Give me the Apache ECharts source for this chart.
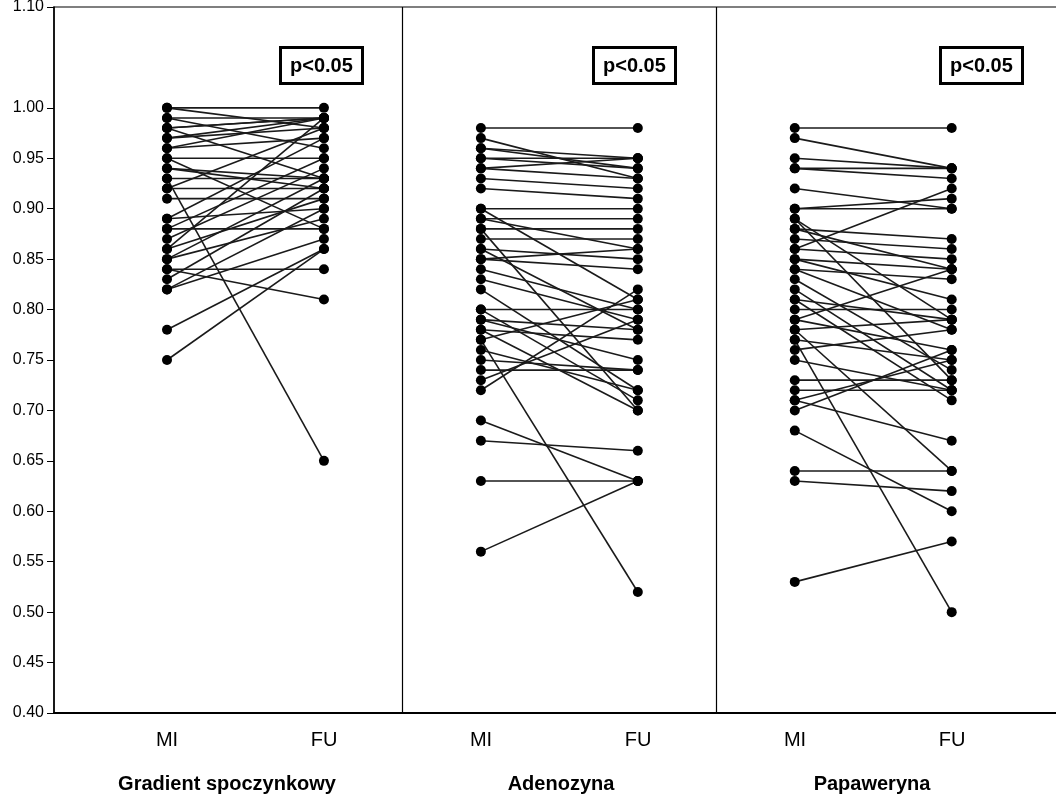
<!DOCTYPE html>
<html lang="pl">
<head>
<meta charset="UTF-8">
<title>MI vs FU</title>
<style>
  html, body { margin: 0; padding: 0; background: #fff; }
  #chart-box { width: 1056px; height: 796px; }
</style>
</head>
<body>
<div id="chart-box"></div>
<script src="https://cdn.jsdelivr.net/npm/echarts@6/dist/echarts.min.js"></script>
<script>
// paired values MI -> FU, one pair per patient
var gradientMI = [1.00,1.00,0.99,0.99,0.98,0.98,0.98,0.97,0.97,0.96,0.96,0.95,0.95,0.94,0.94,0.93,0.93,0.92,0.92,0.91,0.89,0.89,0.88,0.88,0.87,0.86,0.86,0.85,0.85,0.84,0.84,0.83,0.82,0.82,0.78,0.75];
var gradientFU = [1.00,0.98,0.99,0.96,0.99,0.99,0.93,0.99,0.98,0.97,0.99,0.95,0.88,0.93,0.92,0.65,0.93,0.98,0.92,0.91,0.90,0.97,0.95,0.88,0.94,0.91,0.99,0.93,0.89,0.84,0.81,0.92,0.90,0.87,0.86,0.86];

var adenozynaMI = [0.98,0.97,0.96,0.96,0.95,0.95,0.94,0.94,0.93,0.92,0.90,0.90,0.89,0.89,0.88,0.88,0.87,0.86,0.86,0.85,0.85,0.84,0.83,0.82,0.80,0.80,0.79,0.79,0.78,0.78,0.77,0.77,0.76,0.75,0.74,0.73,0.72,0.69,0.67,0.63,0.56];
var adenozynaFU = [0.98,0.93,0.95,0.94,0.94,0.95,0.93,0.95,0.92,0.91,0.90,0.81,0.89,0.86,0.70,0.88,0.87,0.85,0.78,0.86,0.84,0.80,0.79,0.72,0.80,0.71,0.78,0.75,0.77,0.70,0.52,0.81,0.72,0.74,0.74,0.79,0.82,0.63,0.66,0.63,0.63];

var papawerynaMI = [0.98,0.97,0.95,0.94,0.94,0.92,0.90,0.90,0.89,0.89,0.88,0.88,0.87,0.86,0.86,0.85,0.85,0.84,0.84,0.83,0.82,0.81,0.81,0.80,0.79,0.79,0.78,0.78,0.77,0.77,0.76,0.75,0.73,0.72,0.71,0.71,0.70,0.68,0.64,0.63,0.53];
var papawerynaFU = [0.98,0.94,0.94,0.94,0.93,0.90,0.90,0.91,0.79,0.73,0.87,0.84,0.86,0.92,0.85,0.84,0.81,0.83,0.78,0.74,0.72,0.79,0.71,0.80,0.84,0.76,0.64,0.79,0.50,0.75,0.78,0.72,0.73,0.72,0.67,0.75,0.76,0.60,0.64,0.62,0.57];

var timeLabels = ['MI','FU','MI','FU','MI','FU'];
var groupNames = ['Gradient spoczynkowy','Adenozyna','Papaweryna'];
var yTicks = [0.40,0.45,0.50,0.55,0.60,0.65,0.70,0.75,0.80,0.85,0.90,0.95,1.00,1.10];

var groups = [
    {mi: gradientMI, fu: gradientFU},
    {mi: adenozynaMI, fu: adenozynaFU},
    {mi: papawerynaMI, fu: papawerynaFU}
];

var font = 'Liberation Sans, Arial, sans-serif';

var series = [];
groups.forEach(function (g, gi) {
    var xMI = gi * 2 + 1, xFU = gi * 2 + 2;
    for (var i = 0; i < g.mi.length; i++) {
        series.push({
            type: 'line',
            xAxisIndex: 0,
            yAxisIndex: 0,
            data: [[xMI, g.mi[i]], [xFU, g.fu[i]]],
            symbol: 'circle',
            symbolSize: 10,
            itemStyle: {color: '#000'},
            lineStyle: {color: '#1a1a1a', width: 1.6},
            silent: true,
            animation: false
        });
    }
});
// panel dividers
series.push({
    type: 'line',
    xAxisIndex: 0,
    yAxisIndex: 0,
    data: [],
    silent: true,
    animation: false,
    markLine: {
        symbol: ['none', 'none'],
        label: {show: false},
        lineStyle: {color: '#000', width: 1.2, type: 'solid'},
        data: [{xAxis: 2.5}, {xAxis: 4.5}]
    }
});

var boxStyle = {
    borderColor: '#000',
    borderWidth: 3,
    padding: [9, 10, 8, 10],
    backgroundColor: '#fff',
    textStyle: {fontFamily: font, fontWeight: 'bold', fontSize: 20, color: '#000'}
};

var option = {
    backgroundColor: '#fff',
    title: [
        Object.assign({text: 'p<0.05', left: 280, top: 47}, boxStyle),
        Object.assign({text: 'p<0.05', left: 593, top: 47}, boxStyle),
        Object.assign({text: 'p<0.05', left: 940, top: 47}, boxStyle),
        {text: groupNames[0], left: 222, top: 769, textAlign: 'center',
         textStyle: {fontFamily: font, fontWeight: 'bold', fontSize: 20, color: '#000'}},
        {text: groupNames[1], left: 556, top: 769, textAlign: 'center',
         textStyle: {fontFamily: font, fontWeight: 'bold', fontSize: 20, color: '#000'}},
        {text: groupNames[2], left: 867, top: 769, textAlign: 'center',
         textStyle: {fontFamily: font, fontWeight: 'bold', fontSize: 20, color: '#000'}}
    ],
    grid: [
        {left: 54, width: 1006, top: 7, bottom: 83, show: true, borderColor: '#000', borderWidth: 1.2,
         outerBoundsMode: 'none', containLabel: false},
        {left: 88.5, width: 942, top: 7, bottom: 83, show: false, outerBoundsMode: 'none'}
    ],
    xAxis: [
        {
            type: 'value', gridIndex: 0, min: 0.28, max: 6.69,
            axisLine: {show: true, onZero: false, lineStyle: {color: '#000', width: 2}},
            axisTick: {show: false},
            axisLabel: {show: false},
            splitLine: {show: false}
        },
        {
            type: 'category', gridIndex: 1, data: timeLabels, boundaryGap: true,
            axisLine: {show: false},
            axisTick: {show: false},
            splitLine: {show: false},
            axisLabel: {fontFamily: font, fontSize: 20, color: '#000', margin: 17}
        }
    ],
    yAxis: [
        {
            type: 'value', gridIndex: 0, min: 0.40, max: 1.10,
            axisLine: {show: true, lineStyle: {color: '#000', width: 1.5}},
            axisTick: {show: true, length: 7, customValues: yTicks, lineStyle: {color: '#000'}},
            axisLabel: {
                customValues: yTicks, margin: 10,
                fontFamily: font, fontSize: 16, color: '#000',
                formatter: function (v) { return v.toFixed(2); }
            },
            splitLine: {show: false}
        },
        {
            type: 'value', gridIndex: 1, min: 0.40, max: 1.10, show: false
        }
    ],
    series: series
};

var chart = echarts.init(document.getElementById('chart-box'));
chart.setOption(option);
</script>
</body>
</html>
